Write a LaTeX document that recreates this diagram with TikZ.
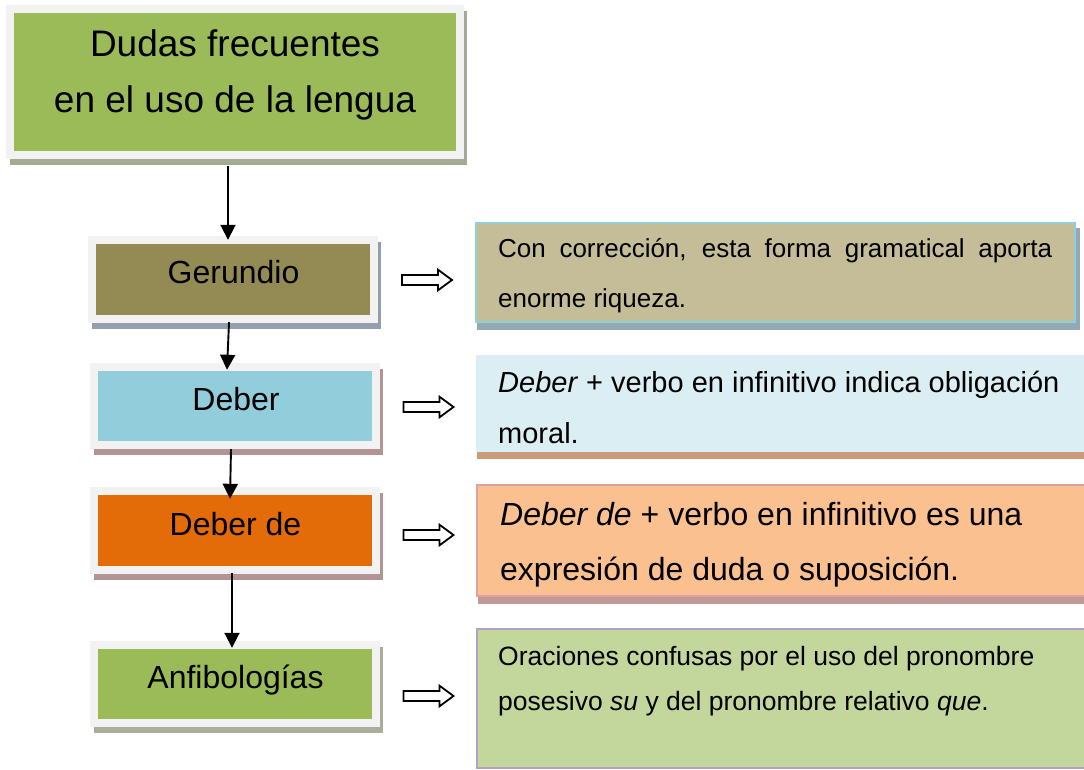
\documentclass[tikz,border=0pt]{standalone}
\usepackage{fontspec}
\setmainfont{Liberation Sans}
\usetikzlibrary{arrows.meta,backgrounds}
\definecolor{titlefill}{HTML}{9BBB59}
\definecolor{gerfill}{HTML}{948A54}
\definecolor{debfill}{HTML}{92CDDC}
\definecolor{debdefill}{HTML}{E36C09}
\definecolor{anffill}{HTML}{9BBB59}
\definecolor{framec}{HTML}{F2F2F2}
\definecolor{shT}{HTML}{A3AC92}
\definecolor{shG}{HTML}{939FAE}
\definecolor{shD}{HTML}{B39393}
\definecolor{shA}{HTML}{A8AE98}
\definecolor{r1fill}{HTML}{C4BD97}
\definecolor{r1draw}{HTML}{92CDDC}
\definecolor{r1sh}{HTML}{93A8B2}
\definecolor{r2fill}{HTML}{DBEEF4}
\definecolor{r2sh}{HTML}{C99B7B}
\definecolor{r3fill}{HTML}{FAC090}
\definecolor{r3draw}{HTML}{E0A0A0}
\definecolor{r3sh}{HTML}{BF9898}
\definecolor{r4fill}{HTML}{C3D69B}
\definecolor{r4draw}{HTML}{B2A1C7}
\tikzset{
  lbox/.style={rectangle, inner sep=0pt, minimum width=274pt, minimum height=70pt},
  rbox/.style={rectangle, inner sep=0pt, line width=2pt},
  conn/.style={line width=1.9pt, -{Triangle[width=15pt,length=15pt]}},
  ltxt/.style={inner sep=0pt, anchor=base, font=\fontsize{32pt}{38pt}\selectfont},
  ttxt/.style={inner sep=0pt, anchor=base, font=\fontsize{37pt}{44pt}\selectfont},
  rtxt/.style={inner sep=0pt, anchor=base west},
  hollowarrow/.pic={\draw[line width=1.8pt, fill=white] (-25,-5) -- (11,-5) -- (11,-10.3) -- (25,0) -- (11,10.3) -- (11,5) -- (-25,5) -- cycle;}
}
\begin{document}
\begin{tikzpicture}[x=1pt,y=-1pt]
\useasboundingbox (0,0) rectangle (1084,770);
\clip (0,0) rectangle (1084,770);

% left column boxes
\node[lbox, fill=titlefill, minimum width=442pt, minimum height=138pt] (title) at (235,82) {};
\node[lbox, fill=gerfill, minimum height=71pt] (ger) at (233,279.5) {};
\node[lbox, fill=debfill] (deb) at (235,406) {};
\node[lbox, fill=debdefill, minimum height=71pt] (debde) at (235,530.5) {};
\node[lbox, fill=anffill] (anf) at (235,684) {};

\node[ttxt] (titleA) at (235,57) {Dudas frecuentes};
\node[ttxt] (titleB) at (235,112.5) {en el uso de la lengua};
\node[ltxt] (gerT) at (233.5,283.5) {Gerundio};
\node[ltxt] (debT) at (236,410) {Deber};
\node[ltxt] (debdeT) at (235.5,535) {Deber de};
\node[ltxt] (anfT) at (235.5,688) {Anfibologías};

% right column boxes
\node[rbox, fill=r1fill, draw=r1draw, minimum width=599pt, minimum height=99pt] (r1) at (775.5,272.5) {};
\node[rbox, fill=r2fill, minimum width=624pt, minimum height=97pt] (r2) at (788,403.5) {};
\node[rbox, fill=r3fill, draw=r3draw, minimum width=623pt, minimum height=111pt] (r3) at (788.5,540.5) {};
\node[rbox, fill=r4fill, draw=r4draw, minimum width=623pt, minimum height=139pt] (r4) at (788.5,698) {};

\node[rtxt, font=\fontsize{26pt}{30pt}\selectfont] (r1a) at (498,257) {\makebox[554pt][s]{Con corrección, esta forma gramatical aporta}};
\node[rtxt, font=\fontsize{26pt}{30pt}\selectfont] (r1b) at (498,307) {enorme riqueza.};
\node[rtxt, font=\fontsize{29pt}{34pt}\selectfont] (r2a) at (498,392) {\textit{Deber} + verbo en infinitivo indica obligación};
\node[rtxt, font=\fontsize{29pt}{34pt}\selectfont] (r2b) at (498,443) {moral.};
\node[rtxt, font=\fontsize{32pt}{38pt}\selectfont] (r3a) at (500,525) {\textit{Deber de} + verbo en infinitivo es una};
\node[rtxt, font=\fontsize{32pt}{38pt}\selectfont] (r3b) at (500,580) {expresión de duda o suposición.};
\node[rtxt, font=\fontsize{26.5pt}{31pt}\selectfont] (r4a) at (498,665) {Oraciones confusas por el uso del pronombre};
\node[rtxt, font=\fontsize{26.5pt}{31pt}\selectfont] (r4b) at (498,710) {posesivo \textit{su} y del pronombre relativo \textit{que}.};

% frames and shadows
\begin{scope}[on background layer]
\fill[white] (0,0) rectangle (1084,770);
\foreach \n/\col in {title/shT,ger/shG,deb/shD,debde/shD,anf/shA}{
  \fill[\col] ([shift={(-4pt,1.5pt)}]\n.north west) rectangle ([shift={(11pt,-13.5pt)}]\n.south east);
  \fill[framec] ([shift={(-7.5pt,7.5pt)}]\n.north west) rectangle ([shift={(7.5pt,-7.5pt)}]\n.south east);
}
\fill[r1sh] ([shift={(2pt,-6pt)}]r1.north west) rectangle ([shift={(4pt,-7pt)}]r1.south east);
\fill[r2sh] ([shift={(2pt,-6pt)}]r2.north west) rectangle ([shift={(3pt,-6pt)}]r2.south east);
\fill[r3sh] ([shift={(2pt,-6pt)}]r3.north west) rectangle ([shift={(3pt,-7pt)}]r3.south east);
\end{scope}

% connectors
\draw[conn] ([shift={(-7pt,-15pt)}]title.south) -- ([shift={(-5pt,4pt)}]ger.north);
\draw[conn] ([shift={(-4pt,-7pt)}]ger.south) -- ([shift={(-8pt,1pt)}]deb.north);
\draw[conn] ([shift={(-4pt,-8pt)}]deb.south) -- ([shift={(-5pt,-4pt)}]debde.north);
\draw[conn] ([shift={(-3pt,-7pt)}]debde.south) -- ([shift={(-3pt,1pt)}]anf.north);

% hollow arrows
\pic (h1) at (427,280) {hollowarrow};
\pic (h2) at (428.5,407) {hollowarrow};
\pic (h3) at (428.5,535) {hollowarrow};
\pic (h4) at (428.5,696) {hollowarrow};
\end{tikzpicture}
\end{document}
